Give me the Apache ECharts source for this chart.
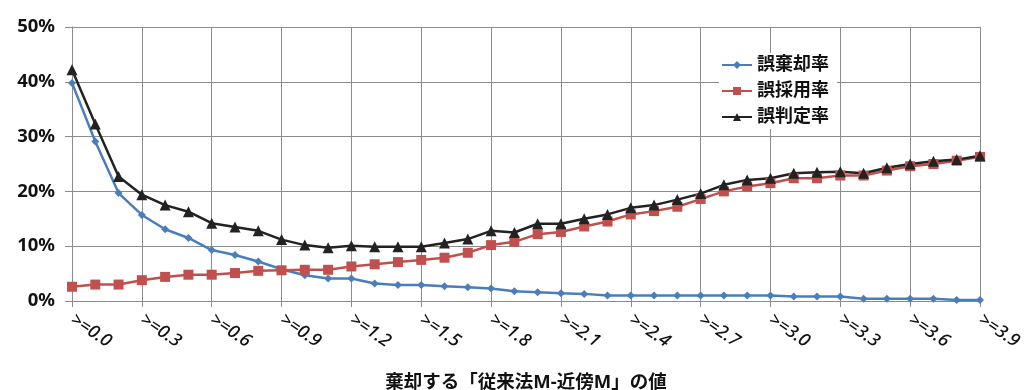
<!DOCTYPE html>
<html>
<head>
<meta charset="utf-8">
<script src="https://cdn.jsdelivr.net/npm/echarts@6/dist/echarts.min.js"></script>
<style>
  html, body { margin: 0; padding: 0; background: #fff; }
  #chart { width: 1025px; height: 390px; }
</style>
</head>
<body>
<div id="chart"></div>
<script>
// Thresholds: ">=0.0" … ">=3.9" in steps of 0.1
const categories = [
  '>=0.0', '>=0.1', '>=0.2', '>=0.3', '>=0.4', '>=0.5', '>=0.6', '>=0.7', '>=0.8', '>=0.9',
  '>=1.0', '>=1.1', '>=1.2', '>=1.3', '>=1.4', '>=1.5', '>=1.6', '>=1.7', '>=1.8', '>=1.9',
  '>=2.0', '>=2.1', '>=2.2', '>=2.3', '>=2.4', '>=2.5', '>=2.6', '>=2.7', '>=2.8', '>=2.9',
  '>=3.0', '>=3.1', '>=3.2', '>=3.3', '>=3.4', '>=3.5', '>=3.6', '>=3.7', '>=3.8', '>=3.9'
];

// Rates in percent
const falseRejection = [
  39.8, 29.1, 19.7, 15.7, 13.1, 11.5, 9.3, 8.4, 7.2, 5.8,
  4.7, 4.1, 4.1, 3.2, 2.9, 2.9, 2.7, 2.5, 2.3, 1.8,
  1.6, 1.4, 1.3, 1.0, 1.0, 1.0, 1.0, 1.0, 1.0, 1.0,
  1.0, 0.8, 0.8, 0.8, 0.4, 0.4, 0.4, 0.4, 0.2, 0.2
];
const falseAcceptance = [
  2.6, 3.0, 3.0, 3.8, 4.4, 4.8, 4.8, 5.1, 5.5, 5.6,
  5.7, 5.7, 6.3, 6.7, 7.1, 7.5, 7.9, 8.8, 10.2, 10.8,
  12.2, 12.6, 13.6, 14.5, 15.8, 16.4, 17.2, 18.6, 20.0, 20.9,
  21.5, 22.4, 22.4, 22.9, 22.9, 23.8, 24.6, 25.0, 25.6, 26.3
];
const misjudgment = [
  42.2, 32.3, 22.7, 19.4, 17.5, 16.3, 14.2, 13.5, 12.8, 11.2,
  10.2, 9.7, 10.1, 9.9, 9.9, 9.9, 10.6, 11.3, 12.8, 12.5,
  14.1, 14.1, 15.0, 15.8, 17.0, 17.5, 18.5, 19.6, 21.2, 22.1,
  22.4, 23.3, 23.5, 23.6, 23.3, 24.3, 25.0, 25.5, 25.8, 26.5
];

const seriesNames = ['誤棄却率', '誤採用率', '誤判定率'];
const yTicks = { min: 0, max: 50, interval: 10 };
const axisTitle = '棄却する「従来法M-近傍M」の値';

const FONT = '"Noto Sans", "Noto Sans CJK JP", sans-serif';
const GRID_COLOR = '#8c8c8c';

const chart = echarts.init(document.getElementById('chart'), null, { renderer: 'canvas' });

function lineSeries(name, data, color, symbol, size) {
  return {
    name: name,
    type: 'line',
    data: data,
    symbol: symbol,
    symbolSize: size,
    lineStyle: { color: color, width: 2.5 },
    itemStyle: { color: color },
    emphasis: { disabled: true },
    z: 3
  };
}

chart.setOption({
  animation: false,
  backgroundColor: '#ffffff',
  textStyle: { fontFamily: FONT },
  grid: { left: 72, right: 45, top: 27, bottom: 89, containLabel: false, outerBoundsMode: 'none' },
  legend: {
    orient: 'vertical',
    left: 719,
    top: 53,
    padding: [3, 8, 3, 2],
    itemGap: 8,
    itemWidth: 30,
    itemHeight: 10,
    backgroundColor: '#ffffff',
    textStyle: { fontSize: 18, fontWeight: 'bold', color: '#111', fontFamily: FONT },
    data: seriesNames
  },
  xAxis: {
    type: 'category',
    data: categories,
    boundaryGap: false,
    name: axisTitle,
    nameLocation: 'middle',
    nameGap: 72,
    nameTextStyle: { fontSize: 18.5, fontWeight: 'bold', color: '#111', fontFamily: FONT },
    axisLine: { show: true, lineStyle: { color: GRID_COLOR, width: 1 } },
    axisTick: { show: true, interval: 2, length: 6, lineStyle: { color: GRID_COLOR } },
    axisLabel: {
      interval: 2,
      rotate: -34,
      margin: 17,
      fontSize: 18,
      fontStyle: 'italic',
      fontWeight: 500,
      color: '#111',
      fontFamily: FONT
    },
    splitLine: { show: true, interval: 2, lineStyle: { color: GRID_COLOR, width: 1 } }
  },
  yAxis: {
    type: 'value',
    min: yTicks.min,
    max: yTicks.max,
    interval: yTicks.interval,
    axisLine: { show: true, lineStyle: { color: GRID_COLOR, width: 1 } },
    axisTick: { show: true, length: 7, lineStyle: { color: GRID_COLOR } },
    axisLabel: {
      formatter: '{value}%',
      fontSize: 18.5,
      fontWeight: 'bold',
      color: '#111',
      margin: 17,
      fontFamily: FONT
    },
    splitLine: { show: true, lineStyle: { color: GRID_COLOR, width: 1 } }
  },
  series: [
    lineSeries(seriesNames[0], falseRejection, '#4a7ebb', 'diamond', 8),
    lineSeries(seriesNames[1], falseAcceptance, '#c0504d', 'rect', 10),
    lineSeries(seriesNames[2], misjudgment, '#222222', 'triangle', 11)
  ]
});
</script>
</body>
</html>
